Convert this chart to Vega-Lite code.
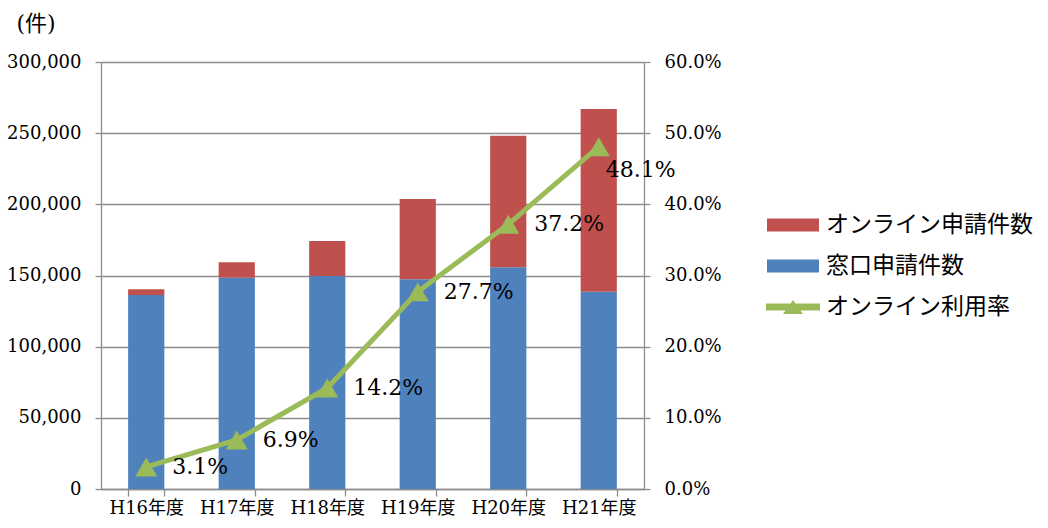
{
  "$schema": "https://vega.github.io/schema/vega-lite/v6.json",
  "width": 543,
  "height": 427,
  "autosize": {"type": "none"},
  "padding": {"left": 101, "top": 62, "right": 404, "bottom": 39},
  "background": "white",
  "config": {"view": {"stroke": null}, "font": "DejaVu Serif"},
  "data": {"values": [
    {"year": "H16年度", "窓口申請件数": 136300, "オンライン申請件数": 4000, "rate": 0.031},
    {"year": "H17年度", "窓口申請件数": 148500, "オンライン申請件数": 10800, "rate": 0.069},
    {"year": "H18年度", "窓口申請件数": 149600, "オンライン申請件数": 24600, "rate": 0.142},
    {"year": "H19年度", "窓口申請件数": 147300, "オンライン申請件数": 56400, "rate": 0.277},
    {"year": "H20年度", "窓口申請件数": 155800, "オンライン申請件数": 92400, "rate": 0.372},
    {"year": "H21年度", "窓口申請件数": 138600, "オンライン申請件数": 128400, "rate": 0.481}
  ]},
  "encoding": {
    "x": {"field": "year", "type": "nominal", "sort": null,
      "scale": {"paddingInner": 0.6, "paddingOuter": 0.3},
      "axis": {"title": null, "labelAngle": 0, "tickBand": "extent", "tickSize": 7, "labelPadding": 3,
        "labelFontSize": 18, "labelFont": "DejaVu Serif, Noto Sans CJK JP", "labelColor": "#000",
        "domainColor": "#8c8c8c", "tickColor": "#8c8c8c", "domainWidth": 1.3, "tickWidth": 1.3}}
  },
  "layer": [
    {
      "transform": [{"fold": ["窓口申請件数", "オンライン申請件数"], "as": ["key", "value"]}],
      "mark": {"type": "bar"},
      "encoding": {
        "y": {"field": "value", "type": "quantitative", "stack": "zero",
          "scale": {"domain": [0, 300000], "nice": false},
          "axis": {"title": "(件)", "titleAngle": 0, "titleAlign": "left", "titleBaseline": "middle",
            "titleX": -85, "titleY": -39, "titleFont": "DejaVu Serif, Noto Sans CJK JP", "titleFontSize": 22,
            "titleFontWeight": "normal", "titleColor": "#000",
            "values": [0, 50000, 100000, 150000, 200000, 250000, 300000], "format": ",.0f",
            "labelFont": "DejaVu Serif", "labelFontSize": 18, "labelColor": "#000", "tickSize": 6, "labelPadding": 14,
            "grid": true, "gridColor": "#8c8c8c", "gridWidth": 1.3,
            "domainColor": "#8c8c8c", "tickColor": "#8c8c8c", "domainWidth": 1.3, "tickWidth": 1.3}},
        "color": {"field": "key", "type": "nominal",
          "scale": {"domain": ["オンライン申請件数", "窓口申請件数", "オンライン利用率"],
            "range": ["#C0504D", "#4F81BD", "#9BBB59"]},
          "legend": {"title": null, "orient": "none", "legendX": 666, "legendY": 137,
            "labelFont": "Noto Sans CJK JP", "labelFontSize": 23, "labelColor": "#000", "labelLimit": 400,
            "symbolSize": 2704, "symbolStrokeWidth": 0, "labelOffset": 7, "rowPadding": 3,
            "symbolOpacity": 1,
            "encode": {"symbols": {"update": {"shape": {"signal": "datum.value === 'オンライン利用率' ? 'M-1.04,-0.135H1.04V0.135H-1.04Z M-0.385,0.27L0,-0.27L0.385,0.27Z' : 'M-1,-0.25H1V0.25H-1Z'"}}}}}},
        "order": {"field": "key", "sort": "descending"}
      }
    },
    {
      "encoding": {
        "y": {"field": "rate", "type": "quantitative",
          "scale": {"domain": [0, 0.6], "nice": false},
          "axis": {"orient": "right", "title": null, "format": ".1%",
            "values": [0, 0.1, 0.2, 0.3, 0.4, 0.5, 0.6],
            "labelFont": "DejaVu Serif", "labelFontSize": 18, "labelColor": "#000", "tickSize": 6, "labelPadding": 14, "grid": false,
            "domainColor": "#8c8c8c", "tickColor": "#8c8c8c", "domainWidth": 1.3, "tickWidth": 1.3}}
      },
      "layer": [
        {"mark": {"type": "line", "color": "#9BBB59", "strokeWidth": 5}},
        {"mark": {"type": "point", "shape": "triangle-up", "filled": true, "size": 480, "color": "#9BBB59", "opacity": 1}},
        {"transform": [{"filter": "datum.year != 'H21年度'"}],
          "mark": {"type": "text", "align": "left", "baseline": "middle", "dx": 26, "fontSize": 22, "font": "DejaVu Serif", "color": "#000"},
          "encoding": {"text": {"field": "rate", "type": "quantitative", "format": ".1%"}}},
        {"transform": [{"filter": "datum.year == 'H21年度'"}],
          "mark": {"type": "text", "align": "left", "baseline": "middle", "dx": 7, "dy": 23, "fontSize": 22, "font": "DejaVu Serif", "color": "#000"},
          "encoding": {"text": {"field": "rate", "type": "quantitative", "format": ".1%"}}}
      ]
    }
  ],
  "resolve": {"scale": {"y": "independent"}}
}
